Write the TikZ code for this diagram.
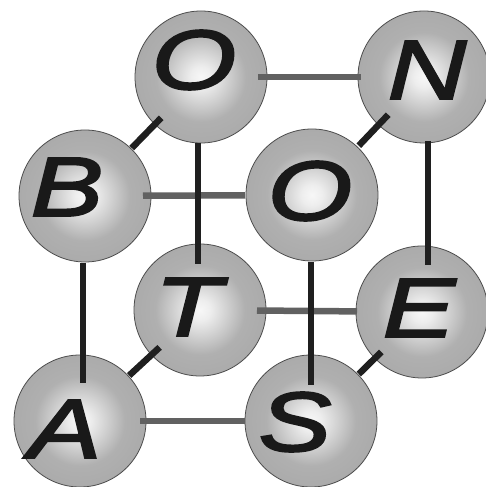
\documentclass[tikz,border=0pt]{standalone}
\usepackage{fontspec}
\usetikzlibrary{calc}
\newfontfamily\lf{Liberation Sans}[FakeStretch=1.3, FakeBold=2.5]
\pgfdeclareradialshading{sph}{\pgfpoint{0bp}{0bp}}{%
  color(0bp)=(black!3); color(4bp)=(black!7); color(10bp)=(black!18);
  color(17bp)=(black!31); color(25bp)=(black!33); color(50bp)=(black!33)}
\tikzset{
  ball/.style={circle, minimum size=132pt, inner sep=0pt, shading=sph, draw=black!70, line width=0.8pt},
  letter/.style={font=\lf\itshape\fontsize{84}{84}\selectfont, inner sep=0pt, text=black!90},
  blk/.style={line width=6.5pt, draw=black!88},
  gry/.style={line width=6.5pt, draw=black!62}
}
\begin{document}
\begin{tikzpicture}[x=1pt,y=1pt]
\useasboundingbox (0,0) rectangle (486,487);
\fill[white] (0,0) rectangle (486,487);
% spheres
\node[ball] (O1) at (201,410) {};
\node[ball] (N)  at (424,410) {};
\node[ball] (B)  at (85,291) {};
\node[ball] (O2) at (312,292) {};
\node[ball] (T)  at (200,177) {};
\node[ball] (E)  at (422,175) {};
\node[ball] (A)  at (80,66) {};
\node[ball] (S)  at (311,66) {};
% letters
\node[letter] (lO1) at ($(O1)+(-7,17)$) {O};
\node[letter] (lN)  at ($(N)+(3,7)$) {N};
\node[letter] (lB)  at ($(B)+(-18,9)$) {B};
\node[letter] (lO2) at ($(O2)+(-2,4)$) {O};
\node[letter] (lT)  at ($(T)+(-12,3)$) {T};
\node[letter] (lE)  at ($(E)+(-3,4)$) {E};
\node[letter] (lA)  at ($(A)+(-15,-8)$) {A};
\node[letter] (lS)  at ($(S)+(-16,-1)$) {S};
% gray horizontal edges
\draw[gry] ($(O1)!57pt!(N)$) -- ($(N)!63pt!(O1)$);
\draw[gry] ($(B)!58pt!(O2)$) -- ($(O2)!67pt!(B)$);
\draw[gry] ($(T)!57pt!(E)$) -- ($(E)!65pt!(T)$);
\draw[gry] ($(A)!60pt!(S)$) -- ($(S)!66pt!(A)$);
% black diagonal edges
\draw[blk] ($(B)!67pt!(O1)$) -- ($(O1)!57pt!(B)$);
\draw[blk] ($(O2)!68pt!(N)$) -- ($(N)!52pt!(O2)$);
\draw[blk] ($(A)!67pt!(T)$) -- ($(T)!55pt!(A)$);
\draw[blk] ($(S)!67pt!(E)$) -- ($(E)!57pt!(S)$);
% black vertical edges
\draw[blk] ($(O1)+(-3,-66)$) -- ($(T)+(-2,46)$);
\draw[blk] ($(B)+(-2,-67)$) -- ($(A)+(3,38)$);
\draw[blk] ($(O2)+(-1,-67)$) -- ($(S)+(0,36)$);
\draw[blk] ($(N)+(4,-64)$) -- ($(E)+(6,47)$);
\end{tikzpicture}
\end{document}
